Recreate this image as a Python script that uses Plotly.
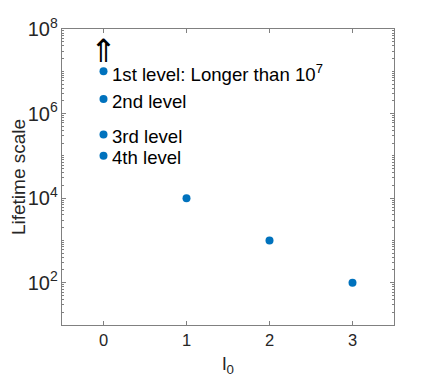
import math
import plotly.graph_objects as go

l0 = [0, 0, 0, 0, 1, 2, 3]
lifetime = [1e7, 2.2e6, 3.2e5, 1e5, 1e4, 1e3, 1e2]
labels = ["1st level: Longer than 10<sup>7</sup>", "2nd level", "3rd level", "4th level"]
label_vals = [1e7, 2.2e6, 3.2e5, 1e5]
arrow_y = 10**7.55

font = "Liberation Sans, Arial, Helvetica, sans-serif"
axcol = "#262626"

fig = go.Figure()
fig.add_trace(go.Scatter(x=l0, y=lifetime, mode="markers",
                         marker=dict(color="#0072BD", size=8), showlegend=False))

for t, v in zip(labels, label_vals):
    fig.add_annotation(x=0, y=math.log10(v), yref="y", xref="x", text=t, showarrow=False,
                       xanchor="left", yanchor="middle", xshift=6, yshift=-2,
                       font=dict(family=font, size=18.6, color="#000000"))

fig.add_annotation(x=0, y=math.log10(arrow_y), text="⇑", showarrow=False, xanchor="center",
                   yanchor="middle", font=dict(family="Noto Sans CJK JP, DejaVu Sans", size=32, color="#000000"))

fig.update_xaxes(range=[-0.5, 3.5], tickvals=[0, 1, 2, 3], ticks="inside", ticklen=4,
                 showline=True, linecolor="#808080", linewidth=1, mirror="ticks",
                 tickcolor="#808080", showgrid=False, zeroline=False, automargin=False,
                 tickfont=dict(family=font, size=16.5, color=axcol),
                 title=dict(text="l<sub>0</sub>", font=dict(family=font, size=19, color=axcol), standoff=8))
fig.update_yaxes(type="log", range=[1, 8], dtick=2, tick0=0, exponentformat="power",
                 showexponent="all", ticks="inside", ticklen=4,
                 showline=True, linecolor="#808080", linewidth=1, mirror="ticks",
                 tickcolor="#808080", showgrid=False, zeroline=False, automargin=False,
                 minor=dict(ticks="inside", ticklen=2, dtick="D1", tickcolor="#808080", showgrid=False),
                 tickfont=dict(family=font, size=16, color=axcol),
                 title=dict(text="Lifetime scale", font=dict(family=font, size=19, color=axcol), standoff=8))
fig.update_layout(width=428, height=379, margin=dict(l=54, r=42, t=21, b=62),
                  paper_bgcolor="white", plot_bgcolor="white")
fig.write_html("out.html")
